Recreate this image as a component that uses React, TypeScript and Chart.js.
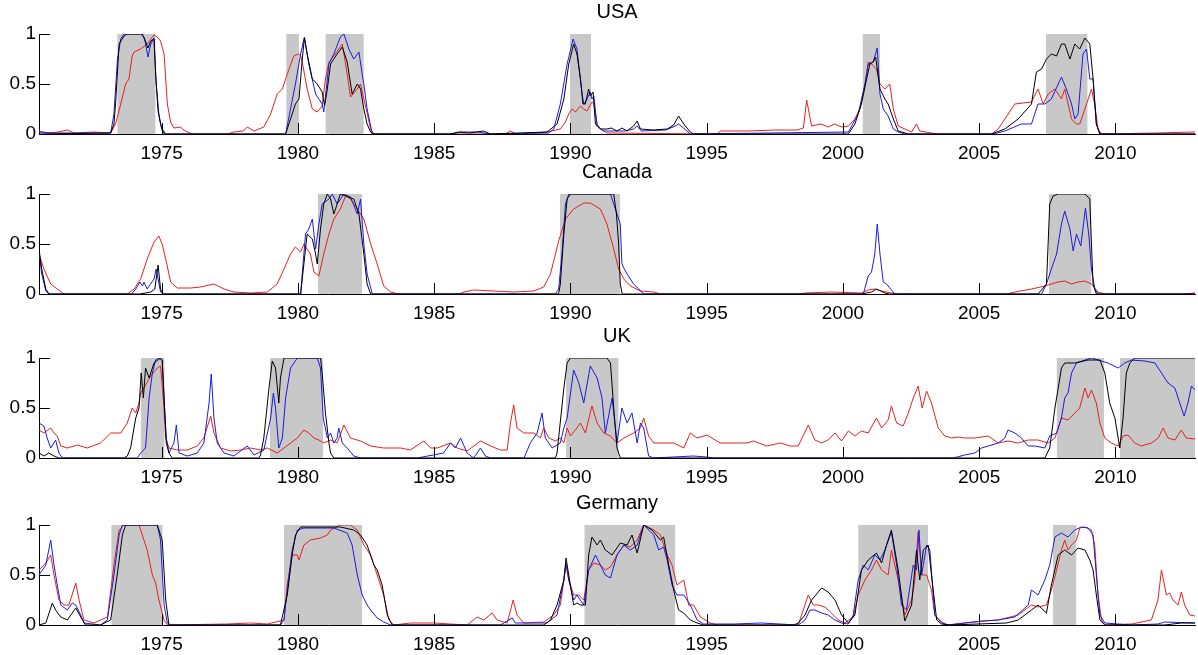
import React, { useEffect, useRef } from 'react';
import { Chart, registerables } from 'chart.js';

Chart.register(...registerables);

// ---------- axis ticks ----------
const yearTicks = [1975, 1980, 1985, 1990, 1995, 2000, 2005, 2010];
const valueTicks = [0, 0.5, 1];
const X_MIN = 1970.5;
const X_MAX = 2012.92;

// ---------- USA ----------
const usaRecessions = [[1973.37, 1974.78], [1979.57, 1980.04], [1981.01, 1982.42], [1989.98, 1990.76], [2000.72, 2001.37], [2007.45, 2008.98]];
const usaBlack = [[1970.5,0],[1973.13,0.01],[1973.25,0.1],[1973.31,0.3],[1973.44,0.9],[1973.62,0.98],[1973.74,1],[1974.23,1],[1974.35,0.97],[1974.5,0.86],[1974.6,0.93],[1974.72,0.95],[1974.78,0.6],[1974.87,0.23],[1974.96,0.1],[1975.02,0.05],[1975.15,0],
[1979.55,0],[1979.73,0.15],[1979.91,0.3],[1980.04,0.35],[1980.16,0.75],[1980.24,0.96],[1980.34,0.8],[1980.53,0.55],[1980.71,0.5],[1980.89,0.42],[1980.98,0.28],[1981.08,0.45],[1981.2,0.7],[1981.44,0.8],[1981.63,0.87],[1981.81,0.72],[1981.99,0.4],[1982.18,0.5],[1982.3,0.45],[1982.42,0.25],[1982.54,0.1],[1982.67,0.02],[1982.79,0],
[1985.6,0],[1985.9,0.02],[1986.3,0.01],[1986.8,0.03],[1987.07,0],[1989.14,0.02],[1989.51,0.1],[1989.76,0.35],[1989.94,0.7],[1990.12,0.9],[1990.24,0.8],[1990.37,0.55],[1990.46,0.3],[1990.55,0.3],[1990.67,0.45],[1990.73,0.38],[1990.83,0.42],[1990.92,0.1],[1991.1,0.05],[1991.34,0.05],[1991.5,0.06],[1991.71,0.03],[1991.89,0.06],[1992.08,0.03],[1992.32,0.08],[1992.45,0.13],[1992.57,0.05],[1993.06,0.04],[1993.55,0.05],[1993.79,0.09],[1993.97,0.18],[1994.16,0.1],[1994.4,0.02],[1994.52,0],
[2000.2,0],[2000.44,0.1],[2000.68,0.3],[2000.87,0.55],[2000.99,0.7],[2001.11,0.72],[2001.2,0.77],[2001.36,0.45],[2001.54,0.35],[2001.66,0.3],[2001.85,0.15],[2002.03,0.03],[2002.4,0],
[2005.45,0],[2005.94,0.05],[2006.43,0.15],[2006.92,0.3],[2007.1,0.62],[2007.29,0.65],[2007.47,0.75],[2007.65,0.8],[2007.84,0.78],[2008.02,0.9],[2008.14,0.9],[2008.33,0.75],[2008.51,0.9],[2008.69,0.85],[2008.88,0.96],[2009.06,0.9],[2009.18,0.55],[2009.3,0.1],[2009.43,0],[2012.92,0]];
const usaBlue = [[1970.5,0.02],[1971,0.01],[1973.13,0.01],[1973.25,0.2],[1973.38,0.75],[1973.5,0.95],[1973.62,1],[1974.3,1],[1974.4,0.92],[1974.5,0.77],[1974.6,0.9],[1974.72,0.96],[1974.8,0.5],[1974.9,0.2],[1975.0,0.05],[1975.09,0],
[1979.55,0],[1979.73,0.25],[1979.91,0.5],[1980.1,0.8],[1980.24,0.97],[1980.4,0.7],[1980.65,0.4],[1980.89,0.3],[1980.95,0.22],[1981.14,0.7],[1981.32,0.8],[1981.56,0.97],[1981.69,1],[1981.87,0.85],[1982.05,0.75],[1982.24,0.82],[1982.36,0.6],[1982.42,0.5],[1982.54,0.25],[1982.73,0],
[1985.6,0],[1986.0,0.02],[1986.6,0.02],[1987.07,0],[1989.2,0.01],[1989.39,0.05],[1989.63,0.3],[1989.88,0.7],[1990.1,0.95],[1990.24,0.85],[1990.43,0.4],[1990.49,0.3],[1990.61,0.35],[1990.73,0.42],[1990.79,0.35],[1990.86,0.38],[1990.98,0.08],[1991.22,0.03],[1992.0,0.03],[1992.32,0.05],[1992.45,0.08],[1992.6,0.03],[1993.5,0.04],[1993.85,0.08],[1993.97,0.1],[1994.28,0.03],[1994.4,0],
[2000.2,0.02],[2000.56,0.2],[2000.81,0.5],[2000.93,0.7],[2001.11,0.72],[2001.26,0.86],[2001.36,0.4],[2001.48,0.25],[2001.66,0.18],[2001.85,0.05],[2002.03,0.02],[2002.3,0],
[2005.5,0],[2005.94,0.03],[2006.55,0.1],[2006.92,0.1],[2007.16,0.3],[2007.41,0.3],[2007.65,0.35],[2008.02,0.57],[2008.2,0.45],[2008.39,0.3],[2008.51,0.15],[2008.63,0.2],[2008.81,0.8],[2008.94,0.85],[2009.06,0.55],[2009.18,0.55],[2009.3,0.1],[2009.43,0],[2012.92,0]];
const usaRed = [[1970.5,0.03],[1970.8,0.01],[1971.2,0.02],[1971.54,0.04],[1971.8,0.01],[1972.5,0.02],[1973.13,0.01],[1973.31,0.1],[1973.5,0.3],[1973.68,0.5],[1973.8,0.55],[1973.92,0.78],[1973.99,0.82],[1974.23,0.85],[1974.47,0.9],[1974.72,0.99],[1974.84,0.97],[1974.96,0.93],[1975.09,0.8],[1975.21,0.3],[1975.33,0.12],[1975.45,0.06],[1975.7,0.07],[1975.76,0.05],[1975.94,0.02],[1976.12,0],
[1977.41,0],[1977.65,0.02],[1978.0,0.03],[1978.14,0.07],[1978.39,0.03],[1978.75,0.07],[1979.0,0.2],[1979.24,0.4],[1979.43,0.45],[1979.61,0.6],[1979.85,0.78],[1980.01,0.8],[1980.1,0.78],[1980.16,0.72],[1980.34,0.45],[1980.53,0.25],[1980.71,0.22],[1980.89,0.28],[1981.01,0.55],[1981.14,0.72],[1981.32,0.78],[1981.63,0.9],[1981.81,0.6],[1981.93,0.37],[1982.18,0.45],[1982.3,0.5],[1982.67,0.05],[1982.79,0],
[1987.6,0],[1987.8,0.03],[1988.0,0],[1988.66,0.01],[1989.14,0.02],[1989.63,0.05],[1989.82,0.12],[1989.94,0.2],[1990.06,0.25],[1990.18,0.22],[1990.37,0.28],[1990.49,0.25],[1990.61,0.23],[1990.79,0.32],[1990.86,0.3],[1990.98,0.1],[1991.1,0.05],[1991.34,0.01],[1995.4,0],[1995.5,0.03],[1996.5,0.03],[1997.5,0.04],[1998.31,0.04],[1998.55,0.06],[1998.67,0.34],[1998.85,0.08],[1999.2,0.1],[1999.46,0.07],[1999.7,0.1],[1999.95,0.07],[2000.2,0.08],[2000.44,0.15],[2000.62,0.25],[2000.81,0.5],[2000.93,0.72],[2001.05,0.7],[2001.23,0.65],[2001.36,0.5],[2001.54,0.45],[2001.72,0.5],[2001.85,0.25],[2002.03,0.08],[2002.52,0.02],[2002.7,0.1],[2002.82,0.03],[2003.25,0.01],[2003.5,0],
[2005.45,0],[2005.7,0.05],[2006.31,0.3],[2006.92,0.32],[2007.16,0.45],[2007.35,0.3],[2007.53,0.4],[2007.78,0.45],[2008.02,0.35],[2008.14,0.45],[2008.39,0.15],[2008.57,0.1],[2008.69,0.1],[2008.88,0.25],[2009.12,0.45],[2009.24,0.3],[2009.36,0.05],[2009.49,0],[2011.5,0.01],[2012.92,0.02]];

// ---------- Canada ----------
const canRecessions = [[1980.73, 1982.36], [1989.61, 1991.83], [2007.55, 2009.12]];
const canBlack = [[1970.5,0.45],[1970.6,0.25],[1970.75,0.05],[1970.87,0],[1974.2,0],[1974.6,0.02],[1974.75,0.05],[1974.87,0.29],[1974.96,0.05],[1975.05,0],
[1980.1,0],[1980.22,0.3],[1980.34,0.6],[1980.53,0.55],[1980.65,0.4],[1980.71,0.3],[1980.83,0.65],[1980.95,0.9],[1981.08,1],[1981.2,0.95],[1981.32,0.8],[1981.44,0.9],[1981.56,1],[1982.05,0.95],[1982.24,0.8],[1982.42,0.4],[1982.54,0.1],[1982.67,0],
[1989.57,0],[1989.63,0.1],[1989.76,0.6],[1989.88,0.95],[1990.0,1],[1991.59,1],[1991.69,0.8],[1991.77,0.5],[1991.83,0.1],[1991.9,0],
[2000.68,0],[2001.05,0.02],[2001.23,0.05],[2001.54,0.01],[2001.7,0],
[2007.16,0],[2007.47,0.1],[2007.59,0.9],[2007.71,0.98],[2007.9,1],[2008.88,1],[2009.06,0.95],[2009.12,0.5],[2009.18,0.1],[2009.3,0],[2012.92,0]];
const canBlue = [[1970.5,0.42],[1970.6,0.2],[1970.75,0.03],[1970.87,0],[1973.9,0],[1974.05,0.05],[1974.2,0.12],[1974.3,0.08],[1974.35,0.12],[1974.47,0.05],[1974.72,0.15],[1974.8,0.25],[1974.87,0.15],[1974.96,0.02],[1975.05,0],
[1980.1,0],[1980.16,0.2],[1980.28,0.6],[1980.4,0.65],[1980.53,0.75],[1980.65,0.45],[1980.77,0.7],[1980.89,0.9],[1981.14,0.95],[1981.26,1],[1981.44,0.9],[1981.69,1],[1981.93,0.97],[1982.18,0.8],[1982.3,0.95],[1982.42,0.5],[1982.54,0.2],[1982.73,0],
[1989.45,0],[1989.57,0.05],[1989.69,0.4],[1989.82,0.9],[1989.94,1],[1991.47,1],[1991.65,0.85],[1991.83,0.7],[1991.89,0.3],[1991.96,0.26],[1992.08,0.2],[1992.32,0.1],[1992.51,0.05],[1992.69,0],
[2000.75,0],[2000.93,0.18],[2001.05,0.22],[2001.17,0.4],[2001.26,0.7],[2001.36,0.4],[2001.48,0.12],[2001.6,0.1],[2001.72,0.06],[2001.91,0],
[2007.29,0],[2007.47,0.1],[2007.65,0.25],[2007.84,0.4],[2008.02,0.7],[2008.14,0.83],[2008.33,0.65],[2008.45,0.43],[2008.57,0.6],[2008.73,0.48],[2008.9,0.86],[2009.02,0.6],[2009.12,0.25],[2009.24,0.05],[2009.36,0],[2012.92,0]];
const canRed = [[1970.5,0.4],[1970.68,0.25],[1970.93,0.1],[1971.17,0.05],[1971.42,0],[1973.74,0],[1973.99,0.05],[1974.23,0.15],[1974.47,0.35],[1974.72,0.52],[1974.9,0.58],[1975.02,0.5],[1975.15,0.35],[1975.33,0.12],[1975.57,0.06],[1976.06,0.06],[1976.43,0.07],[1976.92,0.1],[1977.29,0.05],[1977.65,0.02],[1978.26,0.01],[1978.88,0.02],[1979.24,0.1],[1979.49,0.25],[1979.73,0.4],[1979.91,0.47],[1980.1,0.42],[1980.22,0.5],[1980.46,0.4],[1980.59,0.22],[1980.77,0.18],[1980.95,0.4],[1981.14,0.6],[1981.32,0.75],[1981.56,0.85],[1981.75,0.98],[1981.93,0.95],[1982.18,0.85],[1982.42,0.75],[1982.67,0.5],[1982.91,0.3],[1983.15,0.08],[1983.4,0.02],[1983.7,0],
[1985.9,0],[1986.09,0.02],[1986.45,0.04],[1987.19,0.03],[1987.92,0.02],[1988.66,0.03],[1989.02,0.07],[1989.27,0.2],[1989.57,0.53],[1989.82,0.75],[1990.12,0.85],[1990.49,0.91],[1990.73,0.91],[1991.1,0.85],[1991.34,0.7],[1991.59,0.45],[1991.77,0.25],[1991.96,0.15],[1992.2,0.08],[1992.57,0.03],[1993.06,0.02],[1993.3,0],
[1998.4,0],[1998.61,0.01],[1999.58,0.02],[2000.68,0.01],[2000.93,0.04],[2001.17,0.05],[2001.42,0.03],[2001.78,0.01],[2002.03,0],
[2006.0,0],[2006.31,0.02],[2006.92,0.05],[2007.41,0.08],[2007.65,0.1],[2007.9,0.12],[2008.14,0.13],[2008.39,0.1],[2008.63,0.12],[2008.88,0.13],[2009.12,0.1],[2009.36,0.02],[2009.61,0],[2012.5,0],[2012.92,0.01]];

// ---------- UK ----------
const ukRecessions = [[1974.23, 1975.11], [1978.97, 1980.93], [1989.84, 1991.77], [2007.84, 2009.58], [2010.16, 2012.92]];
const ukBlack = [[1970.5,0.05],[1970.68,0.02],[1970.86,0.05],[1971.05,0.02],[1971.23,0],[1973.62,0],[1973.74,0.02],[1973.86,0.1],[1974.05,0.4],[1974.17,0.5],[1974.25,0.85],[1974.33,0.6],[1974.41,0.9],[1974.54,0.8],[1974.72,0.95],[1974.96,1],[1975.02,0.98],[1975.09,0.6],[1975.17,0.15],[1975.27,0.05],[1975.39,0],
[1978.57,0],[1978.63,0.03],[1978.75,0.2],[1978.94,0.7],[1979.06,0.97],[1979.18,0.9],[1979.3,0.55],[1979.36,0.8],[1979.49,1],[1980.83,1],[1980.89,0.85],[1981.01,0.45],[1981.14,0.15],[1981.2,0.05],[1981.32,0],
[1989.45,0],[1989.51,0.05],[1989.76,0.7],[1989.88,0.95],[1990.0,1],[1991.34,1],[1991.47,0.95],[1991.59,0.5],[1991.71,0.1],[1991.83,0],
[2007.41,0],[2007.59,0.1],[2007.78,0.5],[2008.02,0.9],[2008.14,0.95],[2008.51,0.95],[2009.0,0.98],[2009.43,0.98],[2009.61,0.85],[2009.79,0.55],[2009.98,0.4],[2010.1,0.2],[2010.16,0.1],[2010.28,0.4],[2010.4,0.85],[2010.53,0.95],[2010.71,1],[2012.92,1]];
const ukBlue = [[1970.5,0.35],[1970.68,0.32],[1970.8,0.2],[1970.93,0.1],[1971.11,0.18],[1971.23,0.05],[1971.36,0],[1974.11,0],[1974.23,0.05],[1974.41,0.1],[1974.54,0.6],[1974.66,0.85],[1974.78,0.98],[1974.9,1],[1975.02,0.98],[1975.09,0.6],[1975.17,0.2],[1975.27,0.05],[1975.45,0.15],[1975.54,0.33],[1975.64,0.05],[1975.94,0.02],[1976.31,0.05],[1976.55,0.15],[1976.74,0.55],[1976.82,0.84],[1976.92,0.4],[1977.04,0.15],[1977.29,0.05],[1977.65,0.02],[1978.14,0.12],[1978.39,0.03],[1978.75,0.08],[1979.0,0.4],[1979.1,0.65],[1979.18,0.5],[1979.3,0.1],[1979.43,0.2],[1979.55,0.6],[1979.73,0.9],[1979.98,1],[1980.71,1],[1980.83,0.9],[1980.93,0.4],[1981.08,0.2],[1981.2,0.25],[1981.32,0.15],[1981.44,0.2],[1981.5,0.3],[1981.63,0.15],[1981.81,0.1],[1982.05,0.02],[1982.3,0],
[1984.38,0],[1985.35,0.05],[1985.6,0.15],[1985.78,0.1],[1985.97,0.2],[1986.21,0.05],[1986.45,0],[1986.7,0.1],[1986.88,0.02],[1987.07,0],[1988.3,0],[1988.53,0.15],[1988.78,0.25],[1988.96,0.45],[1989.08,0.2],[1989.33,0.1],[1989.63,0.15],[1989.76,0.3],[1989.88,0.4],[1990.12,0.88],[1990.31,0.75],[1990.49,0.55],[1990.73,0.92],[1990.98,0.8],[1991.16,0.6],[1991.28,0.25],[1991.53,0.6],[1991.71,0.15],[1991.89,0.5],[1992.08,0.35],[1992.26,0.45],[1992.45,0.15],[1992.57,0.35],[1992.69,0.3],[1992.87,0.02],[1993.06,0],[1994.5,0.02],[1995.0,0.01],[1995.2,0],
[2004.05,0],[2004.47,0.03],[2004.84,0.05],[2005.09,0.1],[2005.33,0.12],[2005.7,0.15],[2005.94,0.2],[2006.06,0.28],[2006.31,0.25],[2006.55,0.2],[2006.8,0.12],[2007.04,0.12],[2007.41,0.1],[2007.59,0.22],[2007.84,0.25],[2008.02,0.4],[2008.14,0.6],[2008.26,0.65],[2008.39,0.85],[2008.57,0.95],[2008.88,0.98],[2009.12,1],[2009.36,0.98],[2009.73,0.95],[2010.1,0.9],[2010.34,0.95],[2010.59,0.98],[2011.08,0.97],[2011.45,0.95],[2011.69,0.85],[2011.93,0.75],[2012.18,0.7],[2012.36,0.55],[2012.52,0.42],[2012.66,0.55],[2012.79,0.72],[2012.92,0.68]];
const ukRed = [[1970.5,0.28],[1970.68,0.25],[1970.93,0.3],[1971.05,0.25],[1971.17,0.22],[1971.3,0.12],[1971.54,0.1],[1971.91,0.13],[1972.27,0.1],[1972.76,0.15],[1973.13,0.25],[1973.5,0.25],[1973.74,0.35],[1973.92,0.5],[1974.05,0.45],[1974.17,0.55],[1974.23,0.65],[1974.35,0.7],[1974.6,0.82],[1974.84,0.9],[1974.96,0.92],[1975.06,0.6],[1975.15,0.2],[1975.27,0.1],[1975.57,0.08],[1975.94,0.08],[1976.31,0.12],[1976.55,0.2],[1976.8,0.42],[1976.92,0.25],[1977.16,0.1],[1977.53,0.07],[1977.9,0.08],[1978.26,0.1],[1978.63,0.08],[1978.88,0.1],[1979.24,0.05],[1979.49,0.1],[1979.73,0.15],[1979.98,0.2],[1980.22,0.28],[1980.4,0.25],[1980.59,0.2],[1980.77,0.18],[1980.95,0.15],[1981.2,0.18],[1981.44,0.15],[1981.69,0.33],[1981.93,0.2],[1982.3,0.17],[1982.67,0.12],[1983.15,0.1],[1983.77,0.1],[1984.13,0.08],[1984.62,0.17],[1984.87,0.1],[1985.11,0.1],[1985.6,0.15],[1985.84,0.1],[1986.21,0.07],[1986.7,0.17],[1987.07,0.12],[1987.43,0.08],[1987.68,0.08],[1987.8,0.35],[1987.92,0.53],[1988.04,0.3],[1988.29,0.25],[1988.66,0.25],[1988.9,0.2],[1989.02,0.3],[1989.21,0.2],[1989.45,0.17],[1989.63,0.2],[1989.76,0.15],[1989.88,0.3],[1990.0,0.22],[1990.24,0.3],[1990.37,0.35],[1990.55,0.25],[1990.79,0.52],[1990.98,0.35],[1991.22,0.25],[1991.47,0.22],[1991.71,0.15],[1991.96,0.2],[1992.32,0.25],[1992.57,0.3],[1992.69,0.4],[1992.87,0.22],[1993.06,0.15],[1993.42,0.15],[1993.79,0.15],[1994.16,0.1],[1994.4,0.25],[1994.65,0.2],[1995.01,0.23],[1995.5,0.15],[1995.99,0.15],[1996.48,0.15],[1996.72,0.17],[1997.21,0.12],[1997.7,0.15],[1998.07,0.12],[1998.36,0.12],[1998.73,0.33],[1998.97,0.18],[1999.22,0.15],[1999.46,0.18],[1999.71,0.25],[1999.95,0.17],[2000.2,0.27],[2000.44,0.22],[2000.68,0.27],[2000.93,0.25],[2001.23,0.4],[2001.42,0.3],[2001.66,0.38],[2001.78,0.52],[2001.97,0.35],[2002.21,0.32],[2002.4,0.45],[2002.58,0.6],[2002.76,0.72],[2002.91,0.5],[2003.07,0.67],[2003.25,0.55],[2003.5,0.3],[2003.74,0.22],[2003.99,0.2],[2004.23,0.21],[2004.47,0.2],[2004.84,0.2],[2005.33,0.22],[2005.7,0.15],[2006.06,0.17],[2006.43,0.15],[2006.8,0.18],[2007.16,0.18],[2007.53,0.15],[2007.78,0.2],[2008.02,0.4],[2008.26,0.38],[2008.51,0.45],[2008.69,0.5],[2008.88,0.7],[2009.0,0.6],[2009.12,0.68],[2009.3,0.55],[2009.43,0.35],[2009.61,0.2],[2009.85,0.15],[2010.1,0.12],[2010.28,0.22],[2010.46,0.23],[2010.71,0.15],[2010.95,0.12],[2011.32,0.15],[2011.57,0.2],[2011.75,0.3],[2011.93,0.2],[2012.18,0.18],[2012.42,0.28],[2012.6,0.2],[2012.92,0.19]];

// ---------- Germany ----------
const gerRecessions = [[1973.15, 1975.04], [1979.49, 1982.36], [1990.51, 1993.85], [2000.56, 2003.13], [2007.71, 2008.57]];
const gerBlack = [[1970.5,0],[1970.75,0.02],[1970.87,0.12],[1970.99,0.22],[1971.11,0.15],[1971.3,0.08],[1971.54,0.05],[1971.72,0.12],[1971.85,0.17],[1972.03,0.08],[1972.21,0],[1972.76,0],[1973.13,0.05],[1973.37,0.5],[1973.56,0.9],[1973.68,1],[1974.84,1],[1975.02,0.85],[1975.15,0.25],[1975.27,0],
[1979.36,0],[1979.61,0.3],[1979.79,0.7],[1979.91,0.9],[1980.1,0.98],[1980.83,0.98],[1981.56,0.98],[1982.05,0.95],[1982.3,0.9],[1982.54,0.8],[1982.79,0.6],[1982.91,0.55],[1983.09,0.4],[1983.28,0.1],[1983.46,0],
[1989.02,0],[1989.27,0.05],[1989.51,0.2],[1989.76,0.45],[1989.84,0.67],[1989.94,0.5],[1990.12,0.2],[1990.24,0.22],[1990.37,0.2],[1990.55,0.2],[1990.67,0.7],[1990.79,0.88],[1990.98,0.8],[1991.1,0.85],[1991.28,0.75],[1991.53,0.7],[1991.83,0.82],[1992.08,0.8],[1992.26,0.9],[1992.45,0.72],[1992.69,1],[1993.0,0.95],[1993.3,0.85],[1993.42,0.88],[1993.61,0.6],[1993.79,0.35],[1993.97,0.15],[1994.16,0.12],[1994.4,0.05],[1994.65,0.02],[1994.89,0],
[1998.2,0],[1998.36,0.02],[1998.61,0.1],[1998.85,0.25],[1999.22,0.37],[1999.46,0.33],[1999.71,0.25],[1999.95,0.1],[2000.2,0.02],[2000.44,0.1],[2000.68,0.55],[2000.93,0.65],[2001.23,0.72],[2001.42,0.62],[2001.6,0.8],[2001.78,0.95],[2002.03,0.55],[2002.27,0.04],[2002.52,0.2],[2002.7,0.75],[2002.82,0.45],[2002.95,0.75],[2003.13,0.8],[2003.25,0.5],[2003.44,0.05],[2003.62,0.01],[2003.9,0],
[2006.0,0.02],[2006.43,0.05],[2006.92,0.15],[2007.16,0.2],[2007.47,0.12],[2007.65,0.4],[2007.9,0.7],[2008.14,0.75],[2008.39,0.7],[2008.63,0.77],[2008.88,0.75],[2009.06,0.65],[2009.18,0.55],[2009.3,0.3],[2009.43,0.05],[2009.61,0],[2011.8,0],[2012.42,0.02],[2012.92,0.02]];
const gerBlue = [[1970.5,0.5],[1970.75,0.6],[1970.93,0.85],[1971.05,0.6],[1971.17,0.4],[1971.3,0.2],[1971.54,0.15],[1971.72,0.22],[1971.85,0.2],[1972.03,0.1],[1972.15,0.02],[1972.76,0],[1973.01,0.05],[1973.25,0.5],[1973.44,0.9],[1973.56,1],[1974.84,1],[1974.96,0.85],[1975.09,0.2],[1975.21,0.02],[1975.33,0],
[1979.36,0],[1979.49,0.05],[1979.61,0.35],[1979.79,0.75],[1979.98,0.95],[1980.22,0.97],[1981.32,0.97],[1981.81,0.92],[1981.99,0.8],[1982.18,0.5],[1982.36,0.3],[1982.54,0.2],[1982.67,0.15],[1982.91,0.07],[1983.15,0.03],[1983.4,0],
[1987.43,0],[1987.86,0.07],[1987.98,0.02],[1989.14,0.02],[1989.51,0.1],[1989.76,0.45],[1989.84,0.62],[1989.94,0.45],[1990.12,0.25],[1990.24,0.3],[1990.49,0.2],[1990.67,0.55],[1990.92,0.7],[1991.1,0.6],[1991.28,0.5],[1991.47,0.47],[1991.71,0.7],[1991.96,0.8],[1992.2,0.75],[1992.45,0.8],[1992.69,1],[1993.06,0.9],[1993.24,0.75],[1993.42,0.78],[1993.55,0.65],[1993.73,0.4],[1993.91,0.3],[1994.16,0.3],[1994.4,0.2],[1994.65,0.05],[1994.89,0.01],[1996,0.01],[1997,0.02],[1998.36,0],[1998.61,0.05],[1998.79,0.15],[1998.97,0.15],[1999.22,0.12],[1999.46,0.1],[1999.71,0.05],[1999.95,0.02],[2000.2,0.01],[2000.38,0.1],[2000.56,0.45],[2000.75,0.6],[2000.93,0.55],[2001.17,0.7],[2001.36,0.65],[2001.54,0.75],[2001.78,0.93],[2001.97,0.6],[2002.15,0.2],[2002.33,0.15],[2002.58,0.6],[2002.7,0.55],[2002.79,0.95],[2002.89,0.5],[2003.07,0.8],[2003.19,0.75],[2003.37,0.1],[2003.62,0.02],[2003.86,0],[2004.47,0.02],[2005.09,0.04],[2005.7,0.05],[2006.31,0.08],[2006.8,0.2],[2006.92,0.35],[2007.16,0.3],[2007.41,0.45],[2007.59,0.6],[2007.78,0.88],[2008.02,0.92],[2008.26,0.88],[2008.51,0.95],[2008.75,0.98],[2009.0,0.97],[2009.18,0.9],[2009.3,0.5],[2009.43,0.1],[2009.61,0.02],[2010.59,0],[2011.56,0.01],[2011.81,0.03],[2012.92,0.02]];
const gerRed = [[1970.5,0.55],[1970.75,0.62],[1970.93,0.7],[1971.05,0.5],[1971.23,0.25],[1971.42,0.2],[1971.6,0.2],[1971.85,0.42],[1971.97,0.25],[1972.15,0.05],[1972.52,0.02],[1973.01,0.08],[1973.25,0.6],[1973.44,0.95],[1973.62,1],[1974.17,1],[1974.29,0.9],[1974.47,0.75],[1974.66,0.5],[1974.78,0.42],[1974.9,0.25],[1975.09,0.05],[1975.21,0],[1977.41,0.01],[1978.26,0.02],[1978.88,0.01],[1979.49,0.05],[1979.61,0.4],[1979.79,0.7],[1979.98,0.7],[1980.04,0.65],[1980.22,0.8],[1980.46,0.85],[1980.83,0.87],[1981.08,0.9],[1981.2,0.95],[1981.56,1],[1981.93,1],[1982.18,0.95],[1982.42,0.8],[1982.67,0.7],[1982.85,0.55],[1983.03,0.4],[1983.15,0.3],[1983.34,0.05],[1983.52,0],[1984.13,0.02],[1984.99,0.02],[1985.6,0.01],[1986.21,0],[1986.58,0.08],[1986.82,0.05],[1987.13,0.12],[1987.31,0.05],[1987.68,0.02],[1987.9,0.25],[1988.04,0.1],[1988.29,0.02],[1989.02,0.03],[1989.39,0.1],[1989.63,0.2],[1989.84,0.6],[1989.94,0.45],[1990.12,0.3],[1990.31,0.3],[1990.49,0.25],[1990.67,0.55],[1990.86,0.62],[1991.1,0.6],[1991.28,0.55],[1991.47,0.58],[1991.71,0.7],[1991.96,0.8],[1992.2,0.78],[1992.45,0.85],[1992.69,1],[1993.06,0.95],[1993.3,0.9],[1993.55,0.7],[1993.73,0.6],[1993.91,0.4],[1994.16,0.45],[1994.34,0.2],[1994.52,0.2],[1994.77,0.08],[1995.13,0.02],[1995.38,0],[1998.36,0],[1998.73,0.3],[1998.91,0.2],[1999.1,0.2],[1999.34,0.18],[1999.58,0.12],[1999.83,0.05],[2000.07,0.02],[2000.38,0.08],[2000.56,0.3],[2000.81,0.45],[2001.05,0.55],[2001.23,0.65],[2001.42,0.55],[2001.66,0.5],[2001.78,0.75],[2002.03,0.45],[2002.27,0.1],[2002.52,0.25],[2002.64,0.45],[2002.76,0.93],[2002.89,0.5],[2003.07,0.5],[2003.25,0.35],[2003.37,0.1],[2003.62,0.03],[2003.86,0],[2004.47,0.02],[2005.21,0.04],[2005.7,0.05],[2006.43,0.1],[2006.92,0.2],[2007.16,0.18],[2007.47,0.2],[2007.65,0.35],[2007.84,0.55],[2008.02,0.75],[2008.14,0.85],[2008.26,0.75],[2008.39,0.8],[2008.57,0.85],[2008.69,0.97],[2008.88,0.98],[2009.12,0.95],[2009.24,0.8],[2009.36,0.3],[2009.49,0.05],[2009.61,0],[2010.59,0.01],[2011.32,0.05],[2011.56,0.25],[2011.69,0.55],[2011.87,0.3],[2011.99,0.32],[2012.11,0.25],[2012.3,0.2],[2012.42,0.33],[2012.54,0.2],[2012.73,0.1],[2012.92,0.09]];

// ---------- layout / styles ----------
const PANELS = [
  { title: 'USA', shade: usaRecessions, black: usaBlack, blue: usaBlue, red: usaRed, top: 0 },
  { title: 'Canada', shade: canRecessions, black: canBlack, blue: canBlue, red: canRed, top: 160 },
  { title: 'UK', shade: ukRecessions, black: ukBlack, blue: ukBlue, red: ukRed, top: 324 },
  { title: 'Germany', shade: gerRecessions, black: gerBlack, blue: gerBlue, red: gerRed, top: 491 },
];
const CANVAS_W = 1198;
const CANVAS_H = 162;
const FONT = '"Liberation Sans", Arial, Helvetica, sans-serif';
const SHADE = '#c8c8c8';
const COL_BLACK = '#000000';
const COL_BLUE = '#1a1ae6';
const COL_RED = '#e62020';

const toXY = (arr: number[][]) => arr.map(([x, y]) => ({ x, y }));

const inwardTicks = {
  id: 'inwardTicks',
  afterDraw(chart: any) {
    const { ctx, chartArea, scales } = chart;
    ctx.save();
    ctx.strokeStyle = '#000';
    ctx.lineWidth = 1;
    ctx.beginPath();
    for (const v of valueTicks) {
      if (v === 0) continue;
      const y = Math.round(scales.y.getPixelForValue(v)) + 0.5;
      ctx.moveTo(chartArea.left, y);
      ctx.lineTo(chartArea.left + 11, y);
    }
    for (const v of yearTicks) {
      const x = Math.round(scales.x.getPixelForValue(v)) + 0.5;
      ctx.moveTo(x, chartArea.bottom);
      ctx.lineTo(x, chartArea.bottom - 11);
    }
    ctx.stroke();
    ctx.restore();
  },
};

function Panel({ cfg }: { cfg: any }) {
  const ref = useRef<HTMLCanvasElement>(null);
  useEffect(() => {
    if (!ref.current) return;
    const shadeSets = cfg.shade.map(([s, e]: number[]) => ({
      type: 'line',
      data: [{ x: s, y: 1 }, { x: e, y: 1 }],
      fill: 'origin',
      backgroundColor: SHADE,
      borderWidth: 0,
      borderColor: 'rgba(0,0,0,0)',
      pointRadius: 0,
      order: 10,
    }));
    const line = (data: number[][], color: string, order: number) => ({
      type: 'line',
      data: toXY(data),
      borderColor: color,
      borderWidth: 1,
      pointRadius: 0,
      tension: 0,
      fill: false,
      order,
    });
    const chart = new Chart(ref.current, {
      type: 'line',
      data: {
        datasets: [
          ...shadeSets,
          line(cfg.red, COL_RED, 3),
          line(cfg.blue, COL_BLUE, 2),
          line(cfg.black, COL_BLACK, 1),
        ],
      } as any,
      options: {
        responsive: false,
        animation: false,
        devicePixelRatio: 1,
        layout: { padding: { top: 0, left: 0, right: 3, bottom: 0 } },
        plugins: {
          legend: { display: false },
          tooltip: { enabled: false },
          title: {
            display: true,
            text: cfg.title,
            color: '#000',
            fullSize: false,
            font: { family: FONT, size: 20, weight: 'normal', lineHeight: 1.2 },
            padding: { top: 0, bottom: 10 },
          },
        },
        scales: {
          x: {
            type: 'linear',
            min: X_MIN,
            max: X_MAX,
            grid: { display: false, drawTicks: false },
            border: { display: true, color: '#000', width: 1 },
            afterBuildTicks: (scale: any) => {
              scale.ticks = yearTicks.map((v) => ({ value: v }));
            },
            afterFit: (scale: any) => {
              scale.height = 28;
            },
            ticks: {
              autoSkip: false,
              maxRotation: 0,
              padding: 8,
              color: '#000',
              font: { family: FONT, size: 19 },
              callback: (v: any) => String(v),
            },
          },
          y: {
            type: 'linear',
            min: 0,
            max: 1,
            grid: { display: false, drawTicks: false },
            border: { display: true, color: '#000', width: 1 },
            afterBuildTicks: (scale: any) => {
              scale.ticks = valueTicks.map((v) => ({ value: v }));
            },
            afterFit: (scale: any) => {
              scale.width = 39;
            },
            ticks: {
              padding: 3,
              color: '#000',
              font: { family: FONT, size: 19 },
              callback: (v: any) => String(v),
            },
          },
        },
      } as any,
      plugins: [inwardTicks],
    });
    return () => chart.destroy();
  }, [cfg]);
  return (
    <canvas
      ref={ref}
      width={CANVAS_W}
      height={CANVAS_H}
      style={{ position: 'absolute', left: 0, top: cfg.top, width: CANVAS_W, height: CANVAS_H, display: 'block' }}
    />
  );
}

export default function App() {
  return (
    <div style={{ position: 'absolute', left: 0, top: 0, width: 1198, height: 655, background: '#fff', overflow: 'hidden' }}>
      {PANELS.map((p) => (
        <Panel key={p.title} cfg={p} />
      ))}
    </div>
  );
}
